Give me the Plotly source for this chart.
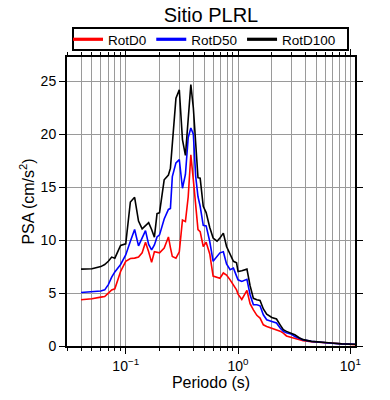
import plotly.graph_objects as go
import numpy as np

periods = [0.04, 0.05, 0.06, 0.065, 0.07, 0.075, 0.08, 0.09, 0.1, 0.11, 0.12, 0.13, 0.14,
           0.15, 0.16, 0.17, 0.18, 0.19, 0.2, 0.22, 0.24, 0.25, 0.26, 0.28, 0.30, 0.32, 0.34,
           0.36, 0.38, 0.40, 0.42, 0.44, 0.46, 0.49, 0.52, 0.56, 0.60, 0.65, 0.69, 0.74,
           0.79, 0.85, 0.91, 0.97, 1.0, 1.08, 1.2, 1.28, 1.37, 1.47, 1.57, 1.68, 1.8, 2.0,
           2.2, 2.37, 2.53, 2.7, 3.0, 3.2, 3.5, 3.8, 4.5, 5.5, 6.8, 8.4, 10.3, 11.0]

rotd0 = [4.37, 4.46, 4.62, 4.68, 5.0, 5.3, 5.4, 7.04, 8.0, 8.26, 8.3, 8.4, 8.8,
         9.8, 8.9, 7.9, 8.9, 8.85, 8.8, 9.25, 10.3, 9.3, 8.45, 8.3, 8.9, 11.9, 11.75,
         14.1, 18.05, 15.7, 12.9, 11.0, 10.8, 9.4, 9.8, 8.7, 6.6, 6.47, 6.4, 6.9,
         6.7, 6.25, 5.8, 5.3, 4.9, 4.4, 5.25, 4.0, 3.42, 2.9, 2.64, 2.0, 1.85, 1.7,
         1.54, 1.4, 1.22, 0.95, 0.8, 0.7, 0.6, 0.5, 0.4, 0.32, 0.24, 0.18, 0.14, 0.13]

rotd50 = [5.06, 5.1, 5.2, 5.3, 5.8, 6.5, 7.0, 7.7, 8.6, 9.9, 11.0, 9.46, 10.3,
          10.9, 9.6, 9.08, 9.55, 10.3, 10.5, 12.0, 12.9, 13.0, 16.0, 17.3, 17.6, 14.9, 16.2,
          19.7, 20.6, 20.0, 16.0, 14.1, 13.2, 11.4, 11.35, 9.87, 8.0, 8.45, 8.8, 8.9,
          7.76, 7.2, 7.36, 6.6, 6.25, 6.1, 6.3, 4.84, 3.9, 3.9, 3.8, 2.95, 2.48, 2.32,
          2.17, 1.7, 1.38, 1.25, 1.1, 0.9, 0.7, 0.58, 0.44, 0.34, 0.26, 0.2, 0.18, 0.17]

rotd100 = [7.26, 7.3, 7.5, 7.7, 8.0, 8.4, 8.3, 9.5, 9.65, 13.6, 14.05, 11.8, 11.07,
           11.35, 11.66, 11.0, 10.28, 12.5, 12.6, 15.7, 16.15, 16.8, 19.0, 23.4, 24.2, 19.5, 18.0,
           21.3, 24.7, 22.5, 18.8, 15.9, 15.85, 13.2, 12.6, 11.2, 10.2, 9.9, 10.2, 10.66,
           9.4, 8.6, 8.0, 7.85, 7.04, 7.1, 7.26, 5.7, 4.5, 4.37, 4.3, 3.5, 3.0, 2.7,
           2.55, 2.0, 1.54, 1.38, 1.22, 1.07, 0.78, 0.6, 0.44, 0.34, 0.28, 0.2, 0.18, 0.17]

series_names = ["RotD0", "RotD50", "RotD100"]
series_colors = ["#ff0000", "#0000ff", "#000000"]
title_text = "Sitio PLRL"
x_title = "Periodo (s)"
y_title = "PSA (cm/s<sup>2</sup>)"
x_tickvals = [0.1, 1, 10]
x_ticktext = ["10<sup>−1</sup>", "10<sup>0</sup>", "10<sup>1</sup>"]
x_minor_vals = [m * d for d in (0.01, 0.1, 1) for m in range(2, 10) if 0.03 <= m * d <= 11]
y_tickvals = [0, 5, 10, 15, 20, 25]

FONT = "Liberation Sans, Arial, Helvetica, sans-serif"
GRID = "#9a9a9a"

W, H = 390, 400
L, R, T, B = 67, 35, 57, 54
PW, PH = W - L - R, H - T - B


def px_to_paper_x(px):
    return (px - L) / PW


def px_to_paper_y(py):
    return (H - B - py) / PH


fig = go.Figure()
for name, vals, col in zip(series_names, [rotd0, rotd50, rotd100], series_colors):
    fig.add_trace(go.Scatter(x=periods, y=vals, mode="lines", name=name,
                             line=dict(color=col, width=1.6), showlegend=False))
# legend entries (thicker sample lines, as in the reference key)
for name, col in zip(series_names, series_colors):
    fig.add_trace(go.Scatter(x=[None], y=[None], mode="lines", name=name,
                             line=dict(color=col, width=3.2), showlegend=True))

fig.update_layout(
    width=W, height=H,
    margin=dict(l=L, r=R, t=T, b=B, autoexpand=False),
    paper_bgcolor="white", plot_bgcolor="white",
    font=dict(family=FONT, color="black", size=14),
    title=dict(text=title_text, x=211/W, xanchor="center", y=1-15/H, yanchor="middle",
               xref="container", yref="container", font=dict(size=20, family=FONT)),
    showlegend=True,
    legend=dict(orientation="h", xref="container", yref="container",
                x=68/W, y=1-39.5/H, xanchor="left", yanchor="middle",
                borderwidth=0, bgcolor="rgba(0,0,0,0)",
                font=dict(size=13.5, family=FONT),
                tracegroupgap=0),
    shapes=[dict(type="rect", xref="paper", yref="paper",
                 x0=px_to_paper_x(73), x1=px_to_paper_x(348),
                 y0=px_to_paper_y(50), y1=px_to_paper_y(28),
                 line=dict(color="black", width=2), fillcolor="rgba(0,0,0,0)",
                 layer="above")],
)

fig.update_xaxes(
    type="log", range=[np.log10(0.03), np.log10(11)],
    tickvals=x_tickvals, ticktext=x_ticktext,
    showline=True, linecolor="black", linewidth=2, mirror="ticks",
    ticks="outside", ticklen=6, tickwidth=1, tickcolor="black",
    showgrid=True, gridcolor=GRID, gridwidth=1,
    minor=dict(tickmode="array", tickvals=x_minor_vals,
               ticks="outside", ticklen=3, tickwidth=1, tickcolor="black",
               showgrid=True, gridcolor=GRID, gridwidth=1),
    zeroline=False, automargin=False,
    title=dict(text=x_title, font=dict(size=16, family=FONT), standoff=4),
    tickfont=dict(size=14, family=FONT),
)
fig.update_yaxes(
    range=[0, 27.3], tickvals=y_tickvals,
    showline=True, linecolor="black", linewidth=2, mirror="ticks",
    ticks="outside", ticklen=6, tickwidth=1, tickcolor="black",
    showgrid=True, gridcolor=GRID, gridwidth=1, zeroline=False, automargin=False,
    title=dict(text=y_title, font=dict(size=16, family=FONT), standoff=2),
    tickfont=dict(size=14, family=FONT),
)

fig.write_html("out.html", config={"displayModeBar": False},
               post_script="document.body.style.margin='0px';")
